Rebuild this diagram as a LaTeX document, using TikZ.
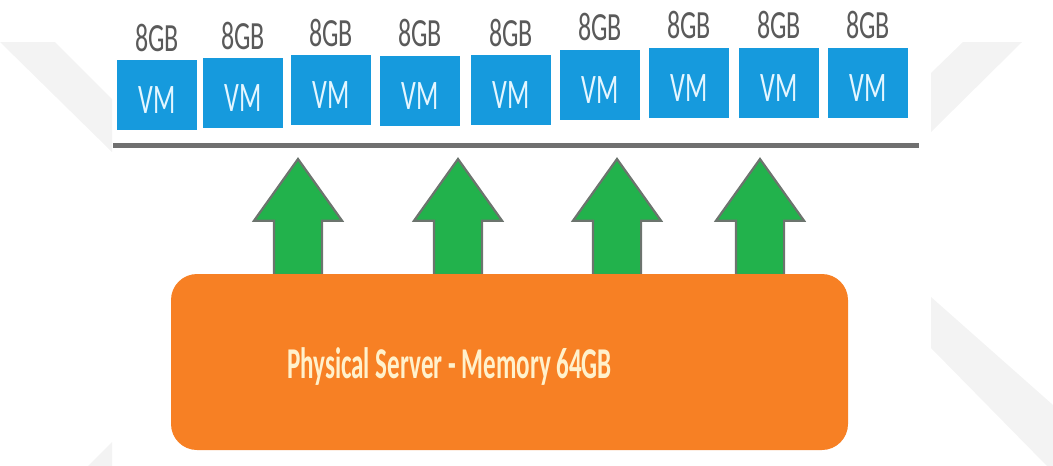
\documentclass[tikz,border=0pt]{standalone}
\usepackage{fontspec}
\setmainfont{Carlito}
\usepackage{graphicx}
\usetikzlibrary{shapes.arrows,positioning}

\definecolor{vmblue}{RGB}{22,154,221}
\definecolor{vmtext}{RGB}{228,246,255}
\definecolor{gbgray}{RGB}{90,90,90}
\definecolor{bargray}{RGB}{112,112,112}
\definecolor{arrgreen}{RGB}{34,178,76}
\definecolor{arredge}{RGB}{108,116,110}
\definecolor{srvorange}{RGB}{247,128,36}
\definecolor{srvtext}{RGB}{255,241,204}
\definecolor{wmgray}{RGB}{243,243,243}

\newcommand{\squeeze}[2][0.65]{\scalebox{#1}[1]{#2}}

\begin{document}
\begin{tikzpicture}[
  x=1pt, y=-1pt,
  every node/.style = {inner sep=0pt, outer sep=0pt},
  vm/.style         = {fill=vmblue, minimum width=80pt, minimum height=70pt,
                        text=vmtext, font=\fontsize{42}{42}\selectfont,
                        text height=37pt, text depth=0pt},
  gb/.style         = {text=gbgray, font=\fontsize{40}{40}\selectfont,
                        anchor=base},
  bus/.style        = {fill=bargray, minimum width=806pt, minimum height=5pt},
  uparr/.style      = {single arrow, rotate=90, anchor=tail, fill=arrgreen,
                        draw=arredge, line width=2.2pt, inner xsep=0pt,
                        inner ysep=23pt, minimum height=116pt,
                        single arrow head extend=20pt,
                        single arrow tip angle=71, single arrow head indent=0pt},
  server/.style     = {fill=srvorange, rounded corners=26pt,
                        minimum width=677pt, minimum height=176pt},
  wmark/.style      = {fill=wmgray},
]
\useasboundingbox (0,0) rectangle (1053,466);

% ── watermark ─────────────────────────────────────────────────────────────────
\fill[wmark] (0,42) -- (55,42) -- (112,99) -- (112,152) -- cycle;
\fill[wmark] (88,466) -- (112,442) -- (112,466) -- cycle;
\fill[wmark] (931,73) -- (963,42) -- (1022,42) -- (931,132) -- cycle;
\fill[wmark] (931,297) -- (1053,405) -- (1053,466) -- (1047,466) -- (931,348) -- cycle;

% ── VMs ───────────────────────────────────────────────────────────────────────
\foreach \i/\x/\y in {1/157/95, 2/243/93, 3/331/90, 4/420/90.5, 5/511/90,
                      6/600/84.5, 7/689/82.5, 8/779/82.5, 9/868/82.5} {
  \node[vm] (vm\i) at (\x,\y) {\squeeze[0.62]{VM}};
  \node[gb] (gb\i) at ([yshift=9pt]vm\i.north) {\squeeze{8GB}};
}

% ── bus bar ───────────────────────────────────────────────────────────────────
\node[bus] (bus) at (516,145.5) {};

% ── memory arrows ─────────────────────────────────────────────────────────────
\node[uparr] (up1) at (298,275) {};
\node[uparr] (up2) at (458,275) {};
\node[uparr] (up3) at (617,275) {};
\node[uparr] (up4) at (760,275) {};

% ── physical server ───────────────────────────────────────────────────────────
\node[server] (server) at (509.5,362) {};
\node[text=srvtext, anchor=base west, font=\fontsize{44}{44}\selectfont\bfseries]
  (srvlbl) at (287,378) {\squeeze[0.57]{Physical Server - Memory 64GB}};

\end{tikzpicture}
\end{document}
